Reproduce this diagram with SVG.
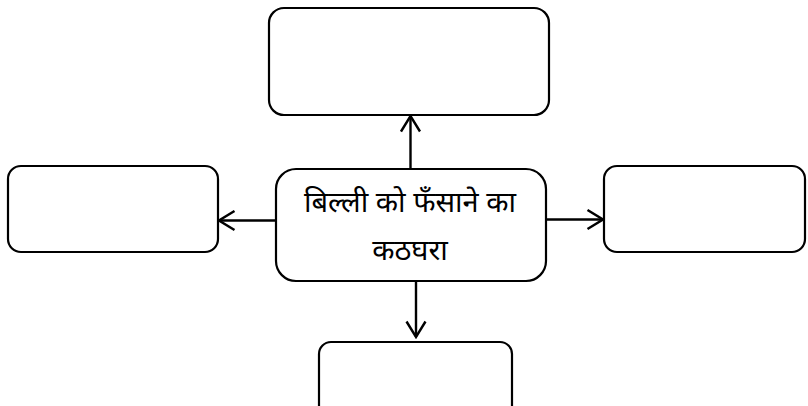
<svg xmlns="http://www.w3.org/2000/svg" width="808" height="406" viewBox="0 0 808 406">
<style>
.box{fill:#fff;stroke:#000;stroke-width:2.2}
.con{fill:none;stroke:#000;stroke-width:2.4}
.lbl{font-family:"Noto Sans","Noto Sans Devanagari",sans-serif;font-size:29px;fill:#000;text-anchor:middle}
</style>
<defs>
<marker id="arr" viewBox="0 0 19 22" refX="17" refY="11" markerWidth="19" markerHeight="22" markerUnits="userSpaceOnUse" orient="auto">
<path d="M1.5,1.5 L17,11 L1.5,20.5" fill="none" stroke="#000" stroke-width="2.4"/>
</marker>
</defs>
<g id="connectors">
<line class="con" x1="410.5" y1="169" x2="410.5" y2="116" marker-end="url(#arr)"/>
<line class="con" x1="276" y1="220.5" x2="219" y2="220.5" marker-end="url(#arr)"/>
<line class="con" x1="546" y1="219.5" x2="603" y2="219.5" marker-end="url(#arr)"/>
<line class="con" x1="416" y1="281" x2="416" y2="337" marker-end="url(#arr)"/>
</g>
<g id="node-top"><rect class="box" x="269" y="8" width="280" height="107" rx="15"/></g>
<g id="node-left"><rect class="box" x="8" y="166" width="210" height="86" rx="13"/></g>
<g id="node-right"><rect class="box" x="604" y="166" width="201" height="86" rx="13"/></g>
<g id="node-bottom"><rect class="box" x="319" y="342" width="193" height="80" rx="12"/></g>
<g id="node-center">
<rect class="box" x="276" y="169" width="270" height="112" rx="20"/>
<text class="lbl" x="410" y="212">बिल्ली को फँसाने का</text>
<text class="lbl" x="410" y="260">कठघरा</text>
</g>
</svg>
